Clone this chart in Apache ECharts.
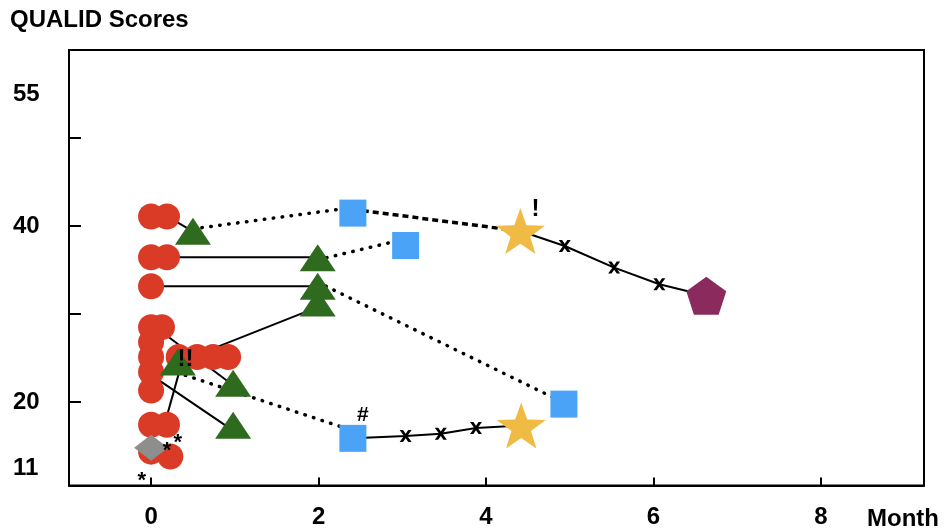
<!DOCTYPE html>
<html>
<head>
<meta charset="utf-8">
<script src="https://cdn.jsdelivr.net/npm/echarts@6/dist/echarts.min.js"></script>
<style>
html,body{margin:0;padding:0;background:#fff;}
#chart{width:947px;height:529px;}
</style>
</head>
<body>
<div id="chart"></div>
<script>
// ---------- data ----------
const xTicks = [0, 2, 4, 6, 8];
const yTicks = [20, 30, 40, 50];
const yLabelValues = [12.4, 20, 40, 55];
const yLabelTexts = ['11', '20', '40', '55'];

const circles = [
  [0, 41.08], [0.19, 41.08], [0, 36.44], [0.19, 36.44], [0, 33.15],
  [0, 28.5], [0.13, 28.5], [0, 26.8], [0, 25.1], [0.33, 25.1],
  [0.55, 25.1], [0.74, 25.1], [0.92, 25.1], [0, 23.4], [0, 21.3],
  [0, 17.4], [0.19, 17.4], [0, 14.35], [0.23, 13.8]
];
const triangles = [
  [0.5, 39.39], [1.99, 36.38], [1.99, 33.15], [1.99, 31.23],
  [0.32, 24.55], [0.98, 22.11], [0.98, 17.35]
];
const squares = [[2.41, 41.46], [3.04, 37.78], [4.93, 19.75], [2.41, 15.86]];
const stars = [[4.41, 39.42], [4.42, 17.33]];
const pentagons = [[6.63, 32.06]];
const diamonds = [[0, 14.8]];
const crosses = [
  [4.94, 37.72], [5.53, 35.27], [6.07, 33.38],
  [3.04, 16.13], [3.46, 16.39], [3.88, 17.04]
];

const solidLines = [
  [[0.19, 41.08], [0.5, 39.39]],
  [[4.41, 39.42], [4.94, 37.72], [5.53, 35.27], [6.07, 33.38], [6.63, 32.06]],
  [[0.19, 36.44], [1.99, 36.44]],
  [[0, 33.15], [1.99, 33.15]],
  [[0.55, 25.34], [1.99, 30.78]],
  [[0, 28.85], [0.98, 21.9]],
  [[0, 23.07], [0.98, 16.73]],
  [[0.37, 24.55], [0.16, 17.4]],
  [[2.41, 15.86], [3.04, 16.13], [3.46, 16.39], [3.88, 17.04], [4.42, 17.33]]
];
const dottedLines = [
  [[0.5, 39.67], [2.41, 42.1]],
  [[1.99, 36.15], [3.03, 38.51]],
  [[1.99, 33.61], [4.93, 19.9]],
  [[0, 24.32], [2.41, 16.73]]
];
const dashedLines = [
  [[2.41, 41.88], [4.41, 39.42]]
];

const noteTexts = ['!', '#', '!!', '*', '*', '*'];
const notePoints = [[4.59, 41.88], [2.53, 18.54], [0.41, 24.89], [0.19, 14.46], [0.32, 15.37], [-0.11, 11.07]];
const noteSizes = [24, 21, 24, 22, 22, 22];

// ---------- styles ----------
const FONT = '"Liberation Sans", Arial, Helvetica, sans-serif';
const STAR = 'path://M50,0 L61.76,33.82 L97.55,34.55 L69.02,56.18 L79.39,90.45 L50,70 L20.61,90.45 L30.98,56.18 L2.45,34.55 L38.24,33.82 Z';
const PENT = 'path://M50,0 L97.55,34.55 L79.39,90.45 L20.61,90.45 L2.45,34.55 Z';
const CROSS = 'path://M0,0 L3.4,0 L6,3.8 L8.6,0 L12,0 L7.7,6 L12,12 L8.6,12 L6,8.2 L3.4,12 L0,12 L4.3,6 Z';

const series = [];
solidLines.forEach(d => series.push({
  type: 'line', data: d, symbol: 'none', silent: true, animation: false, z: 1,
  lineStyle: { color: '#000', width: 2, opacity: 1 }
}));
dottedLines.forEach(d => series.push({
  type: 'line', data: d, symbol: 'none', silent: true, animation: false, z: 1,
  lineStyle: { color: '#000', width: 3.5, type: [0.5, 8.5], cap: 'round', opacity: 1 }
}));
dashedLines.forEach(d => series.push({
  type: 'line', data: d, symbol: 'none', silent: true, animation: false, z: 1,
  lineStyle: { color: '#000', width: 3.5, type: [6, 4], opacity: 1 }
}));
function marks(data, symbol, size, color, z) {
  return { type: 'scatter', data: data, symbol: symbol, symbolSize: size, z: z,
    itemStyle: { color: color, opacity: 1 }, animation: false };
}
series.push(marks(circles, 'circle', 26, '#da3b26', 3));
series.push(marks(diamonds, 'diamond', [34, 26], '#8e8e8e', 4));
series.push(marks(triangles, 'triangle', [36, 27], '#2e6b1f', 5));
series.push(marks(squares, 'rect', 27, '#4aa3f6', 5));
series.push(marks(stars, STAR, [49, 46], '#f0bb44', 5));
series.push(marks(pentagons, PENT, [40, 38], '#8b2a5d', 5));
series.push(marks(crosses, CROSS, [12, 12], '#000', 6));
series.push({
  type: 'scatter', animation: false, symbolSize: 1, z: 7,
  itemStyle: { color: 'rgba(0,0,0,0)', opacity: 1 },
  data: notePoints.map((p, i) => ({
    value: p,
    label: { show: true, position: 'inside', formatter: noteTexts[i], opacity: 1,
      color: '#000', fontWeight: 'bold', fontSize: noteSizes[i], fontFamily: FONT }
  }))
});

const chart = echarts.init(document.getElementById('chart'), null, { renderer: 'canvas' });
chart.setOption({
  backgroundColor: '#fff',
  animation: false,
  title: {
    text: 'QUALID Scores', left: 5, top: 3, padding: 5,
    textStyle: { fontFamily: FONT, fontWeight: 'bold', fontSize: 24, color: '#000' }
  },
  graphic: [{
    type: 'text', left: 867, top: 507,
    style: { text: 'Month', fontFamily: FONT, fontWeight: 'bold', fontSize: 24, fill: '#000' }
  }],
  grid: { left: 69, right: 23, top: 50, bottom: 42, show: true,
    borderColor: '#000', borderWidth: 2, backgroundColor: 'transparent' },
  xAxis: {
    type: 'value', min: -0.98, max: 9.23,
    splitLine: { show: false },
    axisLine: { show: true, onZero: false, lineStyle: { color: '#000', width: 2 } },
    axisTick: { show: true, inside: true, length: 8, customValues: xTicks,
      lineStyle: { color: '#000', width: 2 } },
    axisLabel: { customValues: xTicks, margin: 19.5, color: '#000',
      fontFamily: FONT, fontWeight: 'bold', fontSize: 24 }
  },
  yAxis: {
    type: 'value', min: 10.5, max: 60,
    splitLine: { show: false },
    axisLine: { show: true, onZero: false, lineStyle: { color: '#000', width: 2 } },
    axisTick: { show: true, inside: true, length: 12, customValues: yTicks,
      lineStyle: { color: '#000', width: 2 } },
    axisLabel: { customValues: yLabelValues, align: 'left', margin: 56, color: '#000',
      fontFamily: FONT, fontWeight: 'bold', fontSize: 24,
      formatter: function (v) {
        const i = yLabelValues.indexOf(v);
        return i >= 0 ? yLabelTexts[i] : '';
      } }
  },
  series: series
});
</script>
</body>
</html>
